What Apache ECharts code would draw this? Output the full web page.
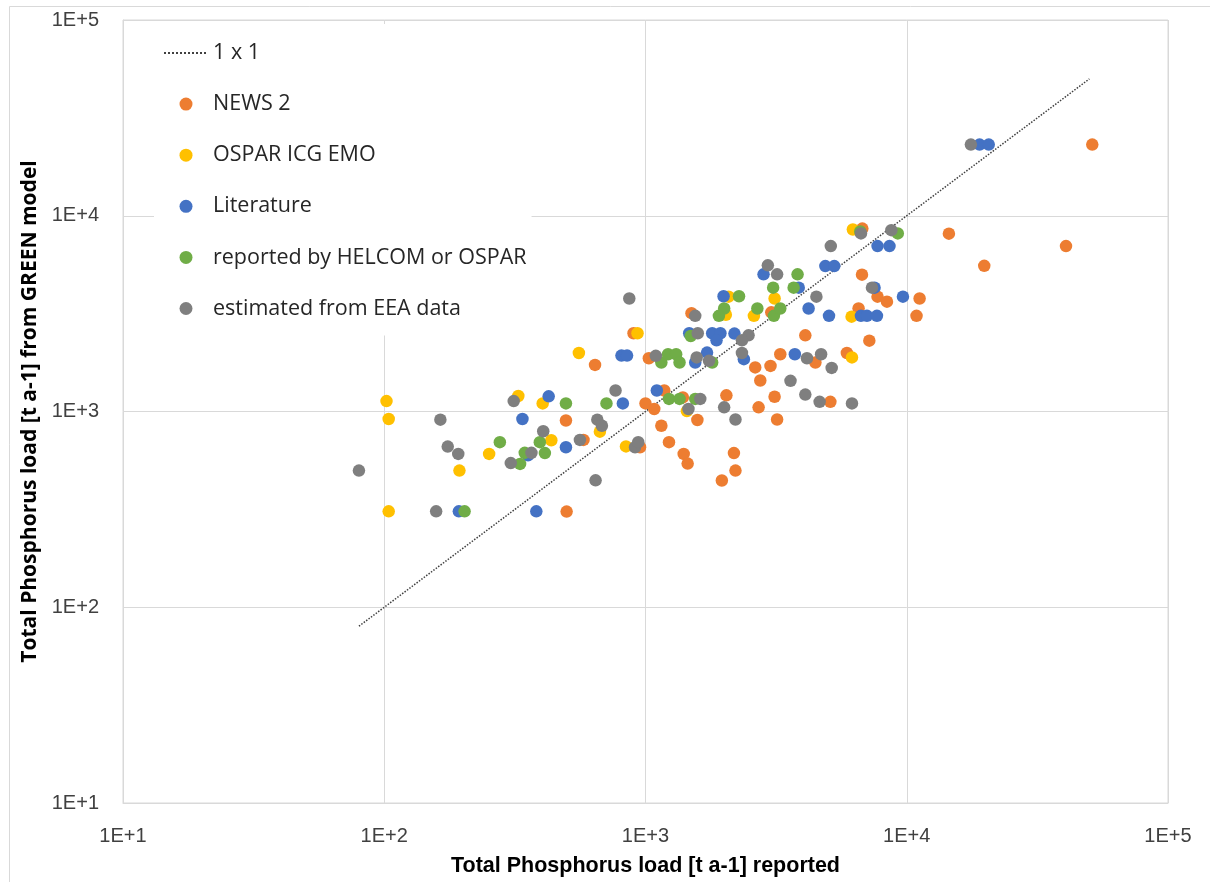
<!DOCTYPE html>
<html><head><meta charset="utf-8">
<script src="https://cdn.jsdelivr.net/npm/echarts@6/dist/echarts.min.js"></script>
<style>html,body{margin:0;padding:0;background:#fff}#c{width:1210px;height:882px}</style>
</head><body><div id="c"></div>
<script>
// Series names
const lineName = '1 x 1';
const names = ['NEWS 2', 'OSPAR ICG EMO', 'Literature', 'reported by HELCOM or OSPAR', 'estimated from EEA data'];
const colors = ['#ED7D31', '#FFC000', '#4472C4', '#70AD47', '#7F7F7F'];

// 1 x 1 reference line (reported = model)
const oneToOne = [[80, 80], [50000, 50000]];

// [reported, GREEN model] in t a-1
const news2 = [[51300,23100],[14500,8100],[40700,7000],[19800,5550],[6760,8600],[6740,5000],[7730,3860],[8400,3640],[11200,3780],[10900,3080],[6540,3360],[7190,2300],[5900,1990],[4470,1780],[4090,2450],[5100,1120],[3280,1960],[2630,1680],[3010,1710],[2750,1440],[3120,1190],[2040,1210],[2710,1050],[3190,910],[1580,905],[3030,3210],[1500,3180],[900,2510],[641,1730],[1030,1870],[1180,1280],[1390,1180],[1000,1100],[1080,1030],[1150,846],[1230,697],[1400,607],[1450,542],[2180,613],[2210,499],[1960,444],[953,657],[579,716],[496,900],[499,308]];
const ospar = [[6220,8510],[2080,3860],[3120,3780],[2030,3120],[2600,3080],[6150,3050],[6170,1890],[932,2510],[556,1990],[102,1130],[326,1200],[404,1100],[104,916],[669,789],[436,713],[252,607],[842,663],[194,499],[104,309],[1440,1005]];
const literature = [[19000,23100],[20600,23100],[7730,7000],[8590,7000],[4880,5530],[5280,5530],[2830,5020],[3860,4290],[7530,4290],[9670,3860],[4210,3360],[5040,3080],[6680,3080],[7040,3080],[7690,3080],[1990,3880],[1470,2510],[1800,2510],[1935,2510],[1870,2310],[2190,2500],[2380,1850],[3730,1960],[1720,2000],[1550,1780],[809,1930],[850,1930],[426,1195],[819,1100],[1105,1280],[338,916],[496,657],[355,597],[193,309],[382,309]];
const helcom = [[6640,8310],[9240,8120],[3820,5020],[3080,4290],[3690,4290],[2280,3880],[2000,3360],[1910,3080],[2680,3360],[3100,3080],[3280,3360],[1490,2430],[1150,1780],[1220,1960],[1310,1960],[1350,1780],[1800,1780],[1230,1160],[1350,1160],[1550,1160],[496,1100],[709,1100],[277,697],[394,697],[345,615],[412,613],[331,540],[203,309]];
const eea = [[17600,23100],[6680,8120],[8730,8440],[5120,7000],[2940,5580],[3190,5020],[7360,4290],[4510,3860],[867,3780],[1550,3080],[1585,2510],[2480,2450],[2340,2310],[2340,1990],[1095,1925],[1570,1890],[1750,1815],[4150,1870],[4700,1960],[5160,1670],[3590,1435],[4090,1220],[4640,1120],[6170,1100],[2000,1050],[2210,910],[1620,1160],[1460,1030],[768,1280],[313,1130],[164,908],[654,908],[681,846],[406,793],[561,716],[175,662],[192,607],[366,615],[305,545],[80,499],[644,445],[158,309],[912,657],[938,697]];

const xTitle = 'Total Phosphorus load [t a-1] reported';
const yTitle = 'Total Phosphorus load [t a-1] from GREEN model';
const axisMin = 10, axisMax = 100000;

const fmt = v => '1E+' + Math.round(Math.log10(v));
const gridCol = '#d9d9d9';
const labelStyle = {color:'#404040', fontSize:20, fontFamily:'Liberation Sans', formatter: fmt};

const scatterData = [news2, ospar, literature, helcom, eea];
const series = [{
  name: lineName, type:'line', data: oneToOne, symbol:'none', showSymbol:false,
  lineStyle:{type:'dotted', color:'#404040', width:1.5}, itemStyle:{color:'#404040'}, z:1
}];
names.forEach((n,i)=>{
  series.push({name:n, type:'scatter', data:scatterData[i], symbol:'circle', symbolSize:12.5,
    itemStyle:{color:colors[i], opacity:1}, z:2+i});
});

const chart = echarts.init(document.getElementById('c'));
chart.setOption({
  animation:false,
  backgroundColor:'#fff',
  graphic:[{type:'rect', left:7, top:4, shape:{width:1230, height:900}, style:{fill:'none', stroke:gridCol, lineWidth:1}, silent:true}],
  grid:{left:123, right:42, top:20, bottom:74, show:true, borderColor:gridCol, borderWidth:1},
  legend:{
    orient:'vertical', left:154, top:24, padding:[18,5,16,9], backgroundColor:'#fff',
    itemWidth:44, itemHeight:13, itemGap:29.1,
    textStyle:{fontSize:21.5, fontFamily:'Open Sans', color:'#262626', lineHeight:20},
    data:[{name:lineName, itemStyle:{opacity:0}}].concat(names)
  },
  xAxis:{type:'log', logBase:10, min:axisMin, max:axisMax,
    axisLine:{show:true, lineStyle:{color:gridCol}}, axisTick:{show:false},
    splitLine:{show:true, lineStyle:{color:gridCol, width:1}},
    axisLabel:Object.assign({margin:23}, labelStyle),
    name:xTitle, nameLocation:'middle', nameGap:52,
    nameTextStyle:{fontWeight:'bold', fontSize:21.5, fontFamily:'Liberation Sans', color:'#000', verticalAlign:'top'}},
  yAxis:{type:'log', logBase:10, min:axisMin, max:axisMax,
    axisLine:{show:true, lineStyle:{color:gridCol}}, axisTick:{show:false},
    splitLine:{show:true, lineStyle:{color:gridCol, width:1}},
    axisLabel:Object.assign({margin:24}, labelStyle),
    name:yTitle, nameLocation:'middle', nameGap:80,
    nameTextStyle:{fontWeight:'bold', fontSize:21, fontFamily:'Open Sans', color:'#000'}},
  series: series
});
</script></body></html>
